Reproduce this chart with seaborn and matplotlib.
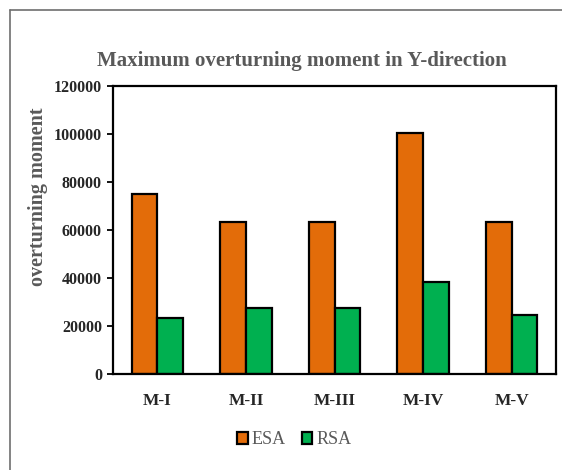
import matplotlib
matplotlib.use("Agg")
import matplotlib.pyplot as plt
import matplotlib.lines as mlines
import pandas as pd
import seaborn as sns

# Chart data
models = ["M-I", "M-II", "M-III", "M-IV", "M-V"]
esa_values = [75000, 63500, 63500, 100500, 63500]
rsa_values = [23500, 27300, 27300, 38400, 24700]
methods = ["ESA", "RSA"]
y_ticks = [0, 20000, 40000, 60000, 80000, 100000, 120000]

df = pd.DataFrame({
    "model": models * 2,
    "method": ["ESA"] * len(models) + ["RSA"] * len(models),
    "moment": esa_values + rsa_values,
})

sns.set_theme(style="white")
plt.rcParams["font.family"] = ["Liberation Serif", "DejaVu Serif"]

fig = plt.figure(figsize=(5.62, 4.70), dpi=100)
ax = fig.add_axes([113 / 562, 1 - 374 / 470, (556 - 113) / 562, (374 - 86) / 470])

palette = {"ESA": "#E36C09", "RSA": "#00B050"}
sns.barplot(data=df, x="model", y="moment", hue="method", hue_order=methods,
            palette=palette, width=0.58, gap=0, edgecolor="black",
            linewidth=1.6, saturation=1, ax=ax, legend=False)

ax.set_ylim(0, 120000)
ax.set_yticks(y_ticks)
ax.set_yticklabels([str(t) for t in y_ticks], fontsize=11.5, fontweight="bold")
for lbl in ax.get_xticklabels():
    lbl.set_fontsize(12.5)
    lbl.set_fontweight("bold")
ax.set_xlabel("")
ax.set_ylabel("")
ax.tick_params(axis="y", which="both", left=True, length=4, width=1.3,
               color="black", pad=4)
ax.tick_params(axis="x", bottom=False, pad=8)
for s in ax.spines.values():
    s.set_visible(True)
    s.set_color("black")
    s.set_linewidth(1.6)

fig.text(38 / 562, 1 - 197 / 470, "overturning moment", rotation=90,
         ha="center", va="center", fontsize=14.5, fontweight="bold", color="#595959")

fig.text(302 / 562, 1 - 61 / 470, "Maximum overturning moment in Y-direction",
         ha="center", va="center", fontsize=15, fontweight="bold", color="#595959")

# Legend below the plot area
handles = [plt.Rectangle((0, 0), 1, 1, facecolor=palette[m], edgecolor="black",
                         linewidth=1.6) for m in methods]
leg = fig.legend(handles, methods, loc="center", bbox_to_anchor=(294 / 562, 1 - 440 / 470),
                 ncol=2, frameon=False, handlelength=0.6, handleheight=0.6,
                 handletextpad=0.2, columnspacing=0.9,
                 prop={"size": 13, "family": "Liberation Serif"})
for t in leg.get_texts():
    t.set_color("#595959")

# Outer chart frame (left and top edges)
fig.add_artist(mlines.Line2D([10 / 562, 10 / 562], [0, 1 - 10 / 470],
                             color="#6e6e6e", linewidth=1.2, transform=fig.transFigure))
fig.add_artist(mlines.Line2D([10 / 562, 1], [1 - 10 / 470, 1 - 10 / 470],
                             color="#6e6e6e", linewidth=1.2, transform=fig.transFigure))

fig.savefig("out.png", dpi=100)
